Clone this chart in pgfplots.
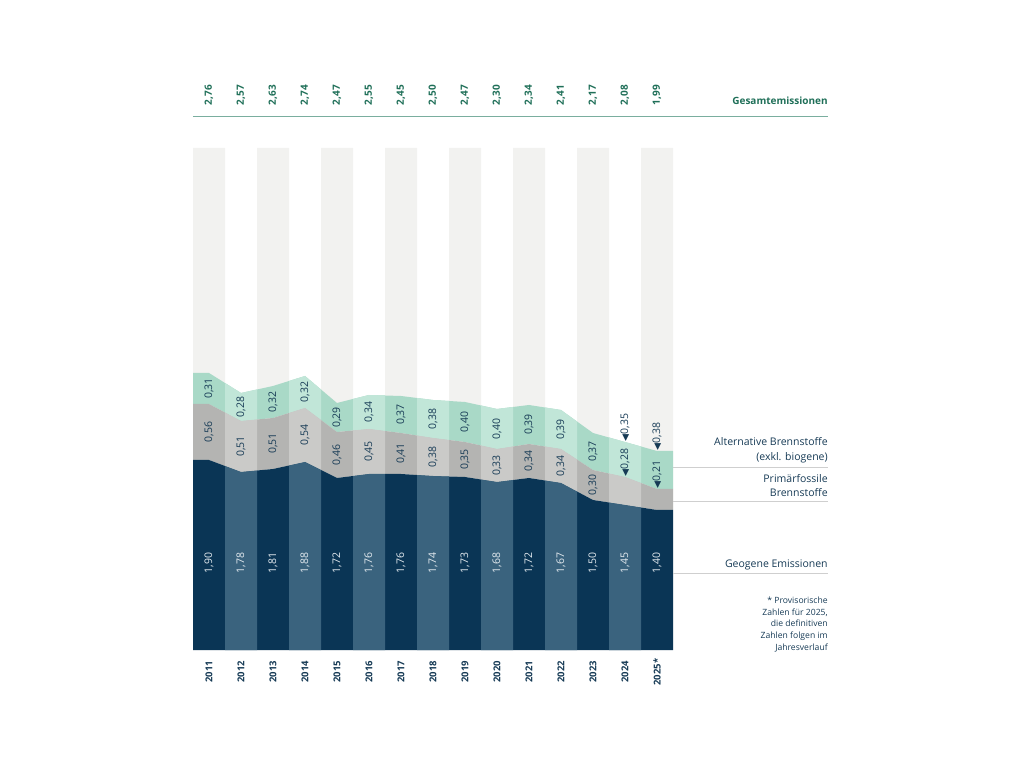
\documentclass[border=0pt]{standalone}
\usepackage{pgfplots}
\pgfplotsset{compat=1.18}
\usepackage{pgfplotstable}
\usepackage{fontspec}
\setmainfont{Open Sans}
\newfontfamily\sym{DejaVu Sans}
\definecolor{bggray}{HTML}{F2F2F0}
\definecolor{navyodd}{HTML}{0A3555}
\definecolor{navyeven}{HTML}{3A637E}
\definecolor{grayodd}{HTML}{B4B4B2}
\definecolor{grayeven}{HTML}{CACAC8}
\definecolor{greenodd}{HTML}{A9D9C7}
\definecolor{greeneven}{HTML}{C1E6D8}
\definecolor{txtdark}{HTML}{163A55}
\definecolor{txtgreen}{HTML}{1F6F58}
\definecolor{geolab}{HTML}{E4EBF0}
\definecolor{topline}{HTML}{7AAE9F}
\definecolor{rline}{HTML}{CFCFCF}

\pgfplotstableread{
x geo prim alt tot yr
-0.5 1.90 0.56 0.31 2.76 x
0 1.90 0.56 0.31 2.76 2011
1 1.78 0.51 0.28 2.57 2012
2 1.81 0.51 0.32 2.63 2013
3 1.88 0.54 0.32 2.74 2014
4 1.72 0.46 0.29 2.47 2015
5 1.76 0.45 0.34 2.55 2016
6 1.76 0.41 0.37 2.45 2017
7 1.74 0.38 0.38 2.50 2018
8 1.73 0.35 0.40 2.47 2019
9 1.68 0.33 0.40 2.30 2020
10 1.72 0.34 0.39 2.34 2021
11 1.67 0.34 0.39 2.41 2022
12 1.50 0.30 0.37 2.17 2023
13 1.45 0.28 0.35 2.08 2024
14 1.40 0.21 0.38 1.99 2025*
14.5 1.40 0.21 0.38 1.99 x
}\data

\pgfplotstableread{
x h
0 5.02
2 5.02
4 5.02
6 5.02
8 5.02
10 5.02
12 5.02
14 5.02
}\bgcols

\pgfplotsset{
  base/.style={width=480pt, height=502pt, scale only axis,
    xmin=-0.5, xmax=14.5, ymin=0, ymax=5.02, hide axis,
    at={(0pt,0pt)}, anchor=south west},
  num/.style={nodes near coords={\pgfmathprintnumber[fixed,fixed zerofill,precision=2,use comma,assume math mode=true]{\pgfplotspointmeta}}},
}

\begin{document}
\begin{tikzpicture}
\useasboundingbox (-193pt,-118pt) rectangle (831pt,650pt);
% background columns
\begin{axis}[base]
\addplot[ybar, bar width=1, fill=bggray, draw=none] table[x=x,y=h] {\bgcols};
\end{axis}
% areas, odd colours
\begin{axis}[base, stack plots=y]
\addplot[fill=navyodd, draw=none] table[x=x,y=geo] {\data} \closedcycle;
\addplot[fill=grayodd, draw=none] table[x=x,y=prim] {\data} \closedcycle;
\addplot[fill=greenodd, draw=none] table[x=x,y=alt] {\data} \closedcycle;
\end{axis}
% areas, even colours (clipped to even columns)
\begin{scope}
\clip (32pt,0pt) rectangle (64pt,502pt)
      (96pt,0pt) rectangle (128pt,502pt)
      (160pt,0pt) rectangle (192pt,502pt)
      (224pt,0pt) rectangle (256pt,502pt)
      (288pt,0pt) rectangle (320pt,502pt)
      (352pt,0pt) rectangle (384pt,502pt)
      (416pt,0pt) rectangle (448pt,502pt);
\begin{axis}[base, stack plots=y]
\addplot[fill=navyeven, draw=none] table[x=x,y=geo] {\data} \closedcycle;
\addplot[fill=grayeven, draw=none] table[x=x,y=prim] {\data} \closedcycle;
\addplot[fill=greeneven, draw=none] table[x=x,y=alt] {\data} \closedcycle;
\end{axis}
\end{scope}
% labels
\begin{axis}[base, clip=false,
  every node near coord/.append style={rotate=90, anchor=center, inner sep=1pt,
     font=\fontsize{10.5}{12}\selectfont}]
% geogene labels
\addplot[draw=none, num, point meta=\thisrow{geo}, restrict x to domain=-0.1:14.1,
  every node near coord/.append style={text=geolab}]
  table[x=x, y expr=0.87] {\data};
% primary fossil labels
\addplot[draw=none, num, point meta=\thisrow{prim}, restrict x to domain=-0.1:12.1,
  every node near coord/.append style={text=txtdark}]
  table[x=x, y expr=\thisrow{geo}+\thisrow{prim}/2] {\data};
% alternative labels
\addplot[draw=none, num, point meta=\thisrow{alt}, restrict x to domain=-0.1:12.1,
  every node near coord/.append style={text=txtdark}]
  table[x=x, y expr=\thisrow{geo}+\thisrow{prim}+\thisrow{alt}/2] {\data};
% 2024 / 2025 labels with pointers
\addplot[draw=none, point meta=\thisrow{prim}, restrict x to domain=12.9:14.1,
  nodes near coords={{\sym\fontsize{9}{9}\selectfont ◀}\pgfmathprintnumber[fixed,fixed zerofill,precision=2,use comma,assume math mode=true]{\pgfplotspointmeta}},
  every node near coord/.append style={text=txtdark, anchor=west, inner sep=0.5pt}]
  table[x=x, y expr=\thisrow{geo}+\thisrow{prim}] {\data};
\addplot[draw=none, point meta=\thisrow{alt}, restrict x to domain=12.9:14.1,
  nodes near coords={{\sym\fontsize{9}{9}\selectfont ◀}\pgfmathprintnumber[fixed,fixed zerofill,precision=2,use comma,assume math mode=true]{\pgfplotspointmeta}},
  every node near coord/.append style={text=txtdark, anchor=west, inner sep=0.5pt}]
  table[x=x, y expr=\thisrow{geo}+\thisrow{prim}+\thisrow{alt}] {\data};
% totals
\addplot[draw=none, num, point meta=\thisrow{tot}, restrict x to domain=-0.1:14.1,
  every node near coord/.append style={text=txtgreen, font=\bfseries\fontsize{10}{12}\selectfont}]
  table[x=x, y expr=5.55] {\data};
% years
\addplot[draw=none, point meta=explicit symbolic, restrict x to domain=-0.1:14.1,
  nodes near coords,
  every node near coord/.append style={text=txtdark, font=\bfseries\fontsize{9.5}{12}\selectfont}]
  table[x=x, y expr=-0.22, meta=yr] {\data};
% decorations
\draw[topline, line width=0.8pt] (axis cs:-0.5,5.34) -- (axis cs:19.34,5.34);
\draw[rline, line width=0.8pt] (axis cs:14.5,1.83) -- (axis cs:19.34,1.83);
\draw[rline, line width=0.8pt] (axis cs:14.5,1.49) -- (axis cs:19.34,1.49);
\draw[rline, line width=0.8pt] (axis cs:14.5,0.77) -- (axis cs:19.34,0.77);
\node[anchor=east, inner sep=0pt, text=txtgreen, font=\bfseries\fontsize{10}{12}\selectfont]
  at (axis cs:19.34,5.49) {Gesamtemissionen};
\node[anchor=east, inner sep=0pt, align=right, text=txtdark, font=\fontsize{10.5}{15}\selectfont]
  at (axis cs:19.34,1.995) {Alternative Brennstoffe\\(exkl. biogene)};
\node[anchor=east, inner sep=0pt, align=right, text=txtdark, font=\fontsize{10.5}{14}\selectfont]
  at (axis cs:19.34,1.64) {Primärfossile\\Brennstoffe};
\node[anchor=east, inner sep=0pt, align=right, text=txtdark, font=\fontsize{10.5}{12}\selectfont]
  at (axis cs:19.34,0.85) {Geogene Emissionen};
\node[anchor=east, inner sep=0pt, align=right, text=txtdark, font=\fontsize{8.6}{11.8}\selectfont]
  at (axis cs:19.34,0.255) {* Provisorische\\Zahlen für 2025,\\die definitiven\\Zahlen folgen im\\Jahresverlauf};
\end{axis}
\end{tikzpicture}
\end{document}
